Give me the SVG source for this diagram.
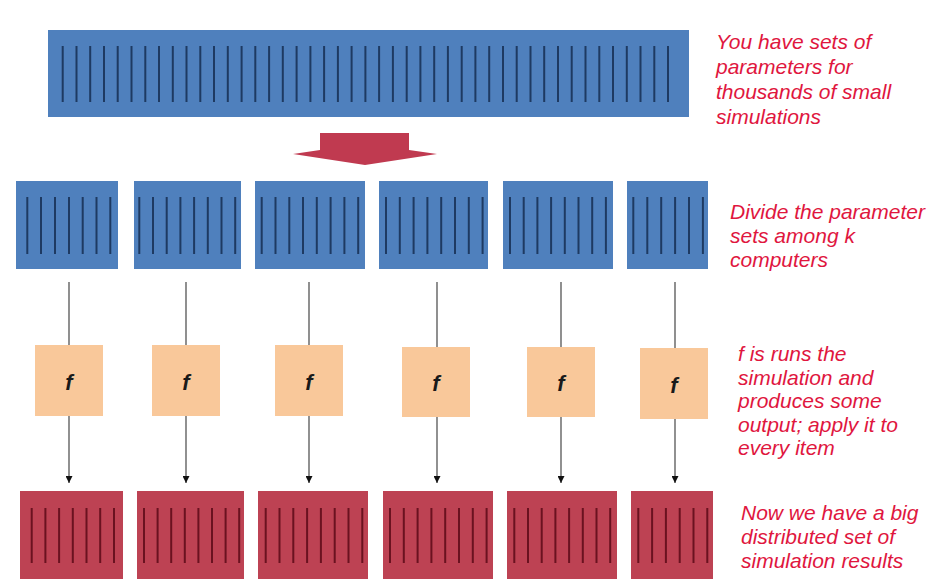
<svg xmlns="http://www.w3.org/2000/svg" width="931" height="579" viewBox="0 0 931 579">
<style>
.blue{fill:#4F80BD;}
.red{fill:#BD4253;}
.fbox{fill:#F9C89A;}
.bl{stroke:#1E3A62;stroke-width:2;}
.rl{stroke:#6A1220;stroke-width:2;}
.conn{stroke:#555555;stroke-width:1.3;fill:none;}
.ftxt{font-family:"Liberation Sans",Arial,sans-serif;font-style:italic;font-weight:bold;font-size:22px;fill:#1a1a1a;text-anchor:middle;}
.note{font-family:"Liberation Sans",Arial,sans-serif;font-style:italic;font-size:21px;fill:#E0163E;}
</style>
<defs>
<marker id="ah" viewBox="0 0 10 10" refX="10" refY="5" markerWidth="7" markerHeight="7" markerUnits="userSpaceOnUse" orient="auto">
<path d="M0,0 L10,5 L0,10 Z" fill="#111111"/>
</marker>
</defs>
<rect width="931" height="579" fill="#ffffff"/>

<g id="input-bar">
<rect class="blue" x="48" y="30" width="641" height="87"/>
<g class="bl">
<path d="M62.7,46V102 M76.5,46V102 M90.2,46V102 M104,46V102 M117.7,46V102 M131.5,46V102 M145.3,46V102 M159,46V102 M172.8,46V102 M186.5,46V102 M200.3,46V102 M214,46V102 M227.8,46V102 M241.6,46V102 M255.3,46V102 M269.1,46V102 M282.8,46V102 M296.6,46V102 M310.4,46V102 M324.1,46V102 M337.9,46V102 M351.6,46V102 M365.4,46V102 M379.1,46V102 M392.9,46V102 M406.7,46V102 M420.4,46V102 M434.2,46V102 M447.9,46V102 M461.7,46V102 M475.4,46V102 M489.2,46V102 M503,46V102 M516.7,46V102 M530.5,46V102 M544.2,46V102 M558,46V102 M571.7,46V102 M585.5,46V102 M599.3,46V102 M613,46V102 M626.8,46V102 M640.5,46V102 M654.3,46V102 M668,46V102"/>
</g>
</g>

<g id="split-arrow">
<path d="M320,133 H409 V150 L437,154 L365,165 L293,154 L320,150 Z" fill="#C03A50"/>
</g>

<g id="part1"><rect class="blue" x="16" y="181" width="102" height="88"/><path class="bl" d="M27.3,197V254 M41,197V254 M55,197V254 M69,197V254 M82.7,197V254 M96.5,197V254 M110.3,197V254"/></g>
<g id="part2"><rect class="blue" x="134" y="181" width="107" height="88"/><path class="bl" d="M139.3,197V254 M153,197V254 M166.7,197V254 M180.4,197V254 M194.1,197V254 M207.8,197V254 M221.5,197V254 M235.2,197V254"/></g>
<g id="part3"><rect class="blue" x="255" y="181" width="110" height="88"/><path class="bl" d="M261.7,197V254 M275.5,197V254 M289.3,197V254 M303,197V254 M316.8,197V254 M330.6,197V254 M344.4,197V254 M358.2,197V254"/></g>
<g id="part4"><rect class="blue" x="379" y="181" width="109" height="88"/><path class="bl" d="M386,197V254 M399.8,197V254 M413.6,197V254 M427.4,197V254 M441.2,197V254 M455,197V254 M468.8,197V254 M482.6,197V254"/></g>
<g id="part5"><rect class="blue" x="503" y="181" width="110" height="88"/><path class="bl" d="M510,197V254 M523.7,197V254 M537.4,197V254 M551.1,197V254 M564.8,197V254 M578.5,197V254 M592.2,197V254 M605.9,197V254"/></g>
<g id="part6"><rect class="blue" x="627" y="181" width="81" height="88"/><path class="bl" d="M633.3,197V254 M647.3,197V254 M661.2,197V254 M675.1,197V254 M689,197V254 M702.9,197V254"/></g>

<g id="connectors">
<path class="conn" d="M69,282V345 M186,282V345 M309,282V345 M437,282V347 M561,282V347 M675,282V348"/>
<line class="conn" x1="69" y1="416" x2="69" y2="483" marker-end="url(#ah)"/>
<line class="conn" x1="186" y1="416" x2="186" y2="483" marker-end="url(#ah)"/>
<line class="conn" x1="309" y1="416" x2="309" y2="483" marker-end="url(#ah)"/>
<line class="conn" x1="437" y1="417" x2="437" y2="483" marker-end="url(#ah)"/>
<line class="conn" x1="561" y1="417" x2="561" y2="483" marker-end="url(#ah)"/>
<line class="conn" x1="675" y1="419" x2="675" y2="483" marker-end="url(#ah)"/>
</g>

<g id="f1"><rect class="fbox" x="35" y="345" width="68" height="71"/><text class="ftxt" x="69" y="390">f</text></g>
<g id="f2"><rect class="fbox" x="152" y="345" width="68" height="71"/><text class="ftxt" x="186" y="390">f</text></g>
<g id="f3"><rect class="fbox" x="275" y="345" width="68" height="71"/><text class="ftxt" x="309" y="390">f</text></g>
<g id="f4"><rect class="fbox" x="402" y="347" width="68" height="70"/><text class="ftxt" x="436" y="391">f</text></g>
<g id="f5"><rect class="fbox" x="527" y="347" width="68" height="70"/><text class="ftxt" x="561" y="391">f</text></g>
<g id="f6"><rect class="fbox" x="640" y="348" width="68" height="71"/><text class="ftxt" x="674" y="393">f</text></g>

<g id="result1"><rect class="red" x="20" y="491" width="103" height="88"/><path class="rl" d="M31.7,508V563 M45.4,508V563 M59.1,508V563 M72.8,508V563 M86.5,508V563 M100.2,508V563 M114,508V563"/></g>
<g id="result2"><rect class="red" x="137" y="491" width="107" height="88"/><path class="rl" d="M144,508V563 M157.6,508V563 M171.2,508V563 M184.8,508V563 M198.4,508V563 M212,508V563 M225.6,508V563 M239.2,508V563"/></g>
<g id="result3"><rect class="red" x="258" y="491" width="110" height="88"/><path class="rl" d="M265.7,508V563 M279.5,508V563 M293.3,508V563 M307.1,508V563 M320.9,508V563 M334.7,508V563 M348.5,508V563 M362.3,508V563"/></g>
<g id="result4"><rect class="red" x="383" y="491" width="110" height="88"/><path class="rl" d="M390,508V563 M403.8,508V563 M417.6,508V563 M431.4,508V563 M445.2,508V563 M459,508V563 M472.8,508V563 M486.6,508V563"/></g>
<g id="result5"><rect class="red" x="507" y="491" width="110" height="88"/><path class="rl" d="M514.3,508V563 M528,508V563 M541.7,508V563 M555.4,508V563 M569.1,508V563 M582.8,508V563 M596.5,508V563 M610.2,508V563"/></g>
<g id="result6"><rect class="red" x="631" y="491" width="82" height="88"/><path class="rl" d="M638.3,508V563 M652.1,508V563 M665.9,508V563 M679.7,508V563 M693.5,508V563 M707.3,508V563"/></g>

<g id="notes">
<text class="note" x="716" y="48.5">You have sets of</text>
<text class="note" x="716" y="73.5">parameters for</text>
<text class="note" x="716" y="98.5">thousands of small</text>
<text class="note" x="716" y="123.5">simulations</text>

<text class="note" x="730" y="219">Divide the parameter</text>
<text class="note" x="730" y="243">sets among k</text>
<text class="note" x="730" y="267">computers</text>

<text class="note" x="738" y="361">f is runs the</text>
<text class="note" x="738" y="384.5">simulation and</text>
<text class="note" x="738" y="408">produces some</text>
<text class="note" x="738" y="431.5">output; apply it to</text>
<text class="note" x="738" y="455">every item</text>

<text class="note" x="741" y="520">Now we have a big</text>
<text class="note" x="741" y="544">distributed set of</text>
<text class="note" x="741" y="568">simulation results</text>
</g>
</svg>
